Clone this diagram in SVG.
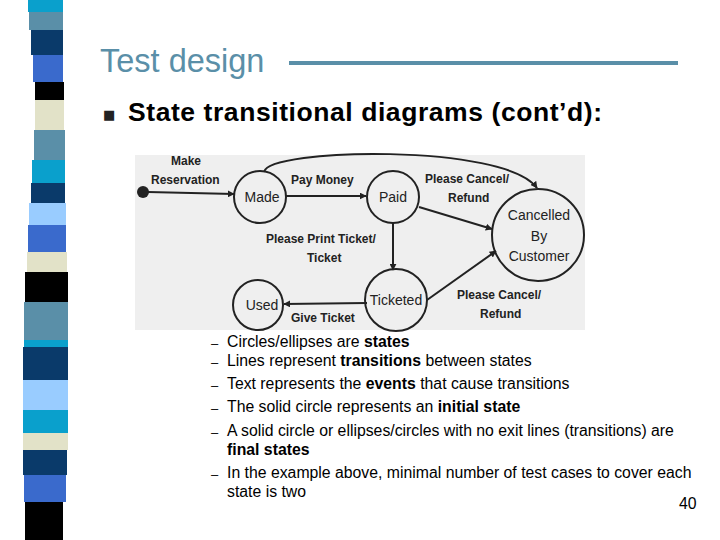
<svg xmlns="http://www.w3.org/2000/svg" width="720" height="540" viewBox="0 0 720 540">
<defs>
<style>
.st{stroke:none}
.n{fill:none;stroke:#222;stroke-width:2}
.c{stroke:#222;stroke-width:2;fill:none}
.lb{font-family:"Liberation Sans",Arial,sans-serif;font-weight:bold;font-size:12px;fill:#222}
.nt{font-family:"Liberation Sans",Arial,sans-serif;font-size:14px;fill:#222;text-anchor:middle}
.b{font-family:"Liberation Sans",Arial,sans-serif;font-size:15.8px;fill:#000}
</style>
<marker id="ar" viewBox="0 0 10 10" refX="9" refY="5" markerWidth="7" markerHeight="7" orient="auto" markerUnits="userSpaceOnUse"><path d="M0,0L10,5L0,10z" fill="#222"/></marker>
</defs>
<rect width="720" height="540" fill="#fff"/>
<g id="strip">
<rect x="28" y="0" width="35" height="12" fill="#0aa0cc"/>
<rect x="29" y="12" width="34" height="18" fill="#5a8fa8"/>
<rect x="31" y="30" width="32" height="25" fill="#0a3a6a"/>
<rect x="33" y="55" width="30" height="27" fill="#3a6acc"/>
<rect x="35" y="82" width="29" height="18" fill="#000"/>
<rect x="35" y="100" width="29" height="30" fill="#e2e2c8"/>
<rect x="34" y="130" width="31" height="30" fill="#5a8fa8"/>
<rect x="32" y="160" width="33" height="23" fill="#0aa0cc"/>
<rect x="31" y="183" width="34" height="20" fill="#0a3a6a"/>
<rect x="29" y="203" width="37" height="22" fill="#99ccff"/>
<rect x="28" y="225" width="38" height="27" fill="#3a6acc"/>
<rect x="27" y="252" width="40" height="20" fill="#e2e2c8"/>
<rect x="25" y="272" width="43" height="30" fill="#000"/>
<rect x="24" y="302" width="44" height="38" fill="#5a8fa8"/>
<rect x="24" y="340" width="44" height="7" fill="#0aa0cc"/>
<rect x="23" y="347" width="45" height="33" fill="#0a3a6a"/>
<rect x="23" y="380" width="45" height="30" fill="#99ccff"/>
<rect x="23" y="410" width="45" height="23" fill="#0aa0cc"/>
<rect x="23" y="433" width="45" height="17" fill="#e2e2c8"/>
<rect x="23" y="450" width="44" height="25" fill="#0a3a6a"/>
<rect x="24" y="475" width="42" height="27" fill="#3a6acc"/>
<rect x="25" y="502" width="38" height="38" fill="#000"/>
</g>
<g id="title">
<text x="100" y="72" font-family="Liberation Sans,Arial,sans-serif" font-size="32.5" fill="#5a8fa8">Test design</text>
<rect x="289" y="61" width="389" height="4" fill="#5a8fa8"/>
<text x="103" y="119" font-family="DejaVu Sans,sans-serif" font-size="13" fill="#222">■</text>
<text x="128" y="121" font-family="Liberation Sans,Arial,sans-serif" font-size="26.5" font-weight="bold" fill="#000" textLength="474">State transitional diagrams (cont’d):</text>
</g>
<rect x="135" y="155" width="450" height="175" fill="#efefef"/>
<g id="connectors">
<line class="c" x1="148" y1="192" x2="234" y2="194" marker-end="url(#ar)"/>
<line class="c" x1="286" y1="196" x2="366" y2="196" marker-end="url(#ar)"/>
<line class="c" x1="419" y1="207" x2="492" y2="229" marker-end="url(#ar)"/>
<line class="c" x1="393" y1="223" x2="393" y2="270" marker-end="url(#ar)"/>
<line class="c" x1="427" y1="300" x2="496" y2="251" marker-end="url(#ar)"/>
<line class="c" x1="367" y1="303" x2="284" y2="304" marker-end="url(#ar)"/>
<path class="c" d="M264,172 C268,148 505,143 537,188" marker-end="url(#ar)"/>
</g>
<g id="initial"><circle cx="143" cy="192" r="6" fill="#222"/></g>
<g id="made"><circle class="n" cx="260" cy="197" r="26"/><text class="nt" x="262" y="202">Made</text></g>
<g id="paid"><circle class="n" cx="393" cy="197" r="26"/><text class="nt" x="393" y="202">Paid</text></g>
<g id="cancelled"><circle class="n" cx="538" cy="235" r="46"/><text class="nt" x="539" y="220">Cancelled</text><text class="nt" x="539" y="241">By</text><text class="nt" x="539" y="261">Customer</text></g>
<g id="ticketed"><circle class="n" cx="396" cy="300" r="31"/><text class="nt" x="396" y="305">Ticketed</text></g>
<g id="used"><circle class="n" cx="258" cy="305" r="25"/><text class="nt" x="262" y="310">Used</text></g>
<g id="labels">
<text class="lb" x="171" y="165">Make</text>
<text class="lb" x="151" y="184">Reservation</text>
<text class="lb" x="291" y="184">Pay Money</text>
<text class="lb" x="425" y="183">Please Cancel/</text>
<text class="lb" x="448" y="202">Refund</text>
<text class="lb" x="266" y="243">Please Print Ticket/</text>
<text class="lb" x="307" y="262">Ticket</text>
<text class="lb" x="457" y="299">Please Cancel/</text>
<text class="lb" x="480" y="318">Refund</text>
<text class="lb" x="291" y="322">Give Ticket</text>
</g>
<g id="bullets">
<g fill="#000" font-family="Liberation Sans,Arial,sans-serif" font-size="13"><text x="211" y="348">–</text><text x="211" y="367">–</text><text x="211" y="390">–</text><text x="211" y="413">–</text><text x="211" y="437">–</text><text x="211" y="479">–</text></g>
<text class="b" x="227" y="347">Circles/ellipses are <tspan font-weight="bold">states</tspan></text>
<text class="b" x="227" y="366">Lines represent <tspan font-weight="bold">transitions</tspan> between states</text>
<text class="b" x="227" y="389">Text represents the <tspan font-weight="bold">events</tspan> that cause transitions</text>
<text class="b" x="227" y="412">The solid circle represents an <tspan font-weight="bold">initial state</tspan></text>
<text class="b" x="227" y="436">A solid circle or ellipses/circles with no exit lines (transitions) are</text>
<text class="b" x="227" y="455" font-weight="bold">final states</text>
<text class="b" x="227" y="478">In the example above, minimal number of test cases to cover each</text>
<text class="b" x="227" y="497">state is two</text>
<text class="b" x="679" y="509" font-size="13">40</text>
</g>
</svg>
